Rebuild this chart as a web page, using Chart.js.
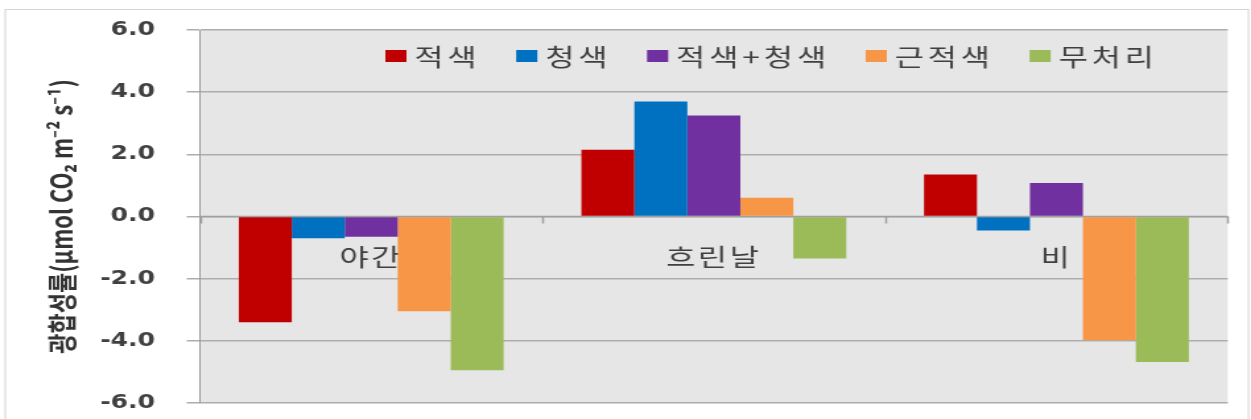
<!DOCTYPE html>
<html>
<head>
<meta charset="utf-8">
<script src="https://cdn.jsdelivr.net/npm/chart.js@4"></script>
<style>
  html, body { margin: 0; padding: 0; background: #fff; overflow: hidden; }
  /* the original picture is stretched sideways, so draw narrow and stretch */
  #wrap { width: 948px; height: 419px; transform: scaleX(1.3197); transform-origin: 0 0; }
</style>
</head>
<body>
<div id="wrap"><canvas id="grafico" width="948" height="419"></canvas></div>
<script>
// categorias e series
const categorias = ["야간", "흐린날", "비"];
const nomes = ["적색", "청색", "적색+청색", "근적색", "무처리"];
const cores = ["#c00000", "#0070c0", "#7030a0", "#f79646", "#9bbb59"];

const vermelho = [-3.4, 2.15, 1.35];
const azul = [-0.7, 3.7, -0.45];
const roxo = [-0.65, 3.25, 1.08];
const vermelhoLonge = [-3.05, 0.6, -3.98];
const controle = [-4.95, -1.35, -4.68];

const yMin = -6;
const yMax = 6;
const yPasso = 2;
const tituloY = "광합성률(μmol CO₂ m⁻² s⁻¹)";

const valores = [vermelho, azul, roxo, vermelhoLonge, controle];

const fonteKr = '"Noto Sans CJK KR", "Noto Sans", sans-serif';

const fundoPlugin = {
  id: "fundo",
  beforeDraw(chart) {
    const { ctx, chartArea: a } = chart;
    ctx.save();
    ctx.fillStyle = "#ffffff";
    ctx.fillRect(0, 0, chart.width, chart.height);
    ctx.strokeStyle = "#d4d4d4";
    ctx.lineWidth = 1;
    ctx.strokeRect(4, 9.5, chart.width - 6, chart.height + 5);
    ctx.fillStyle = "#e6e6e6";
    ctx.fillRect(a.left, a.top, a.right - a.left, a.bottom - a.top);
    ctx.restore();
  },
  beforeDatasetsDraw(chart) {
    const { ctx, scales } = chart;
    const y0 = scales.y.getPixelForValue(0);
    ctx.save();
    // eixo x no zero, com marcas entre as categorias
    ctx.strokeStyle = "#a0a0a0";
    ctx.lineWidth = 1.5;
    ctx.beginPath();
    ctx.moveTo(scales.x.left, y0);
    ctx.lineTo(scales.x.right, y0);
    for (let i = 0; i <= categorias.length; i++) {
      const px = Math.round(scales.x.getPixelForValue(i - 0.5)) + 0.5;
      ctx.moveTo(px, y0);
      ctx.lineTo(px, y0 + 7);
    }
    ctx.stroke();
    // rotulos das categorias logo abaixo do zero, atras das barras
    ctx.font = "24px " + fonteKr;
    ctx.letterSpacing = "2px";
    ctx.fillStyle = "#404040";
    ctx.textAlign = "center";
    ctx.textBaseline = "middle";
    categorias.forEach((c, i) => {
      ctx.fillText(c, scales.x.getPixelForValue(i), y0 + 40);
    });
    ctx.restore();
  },
  afterDatasetsDraw(chart) {
    // legenda dentro da area do grafico
    const { ctx } = chart;
    let x = 292;
    const yc = 56;
    ctx.save();
    ctx.font = "24px " + fonteKr;
    ctx.letterSpacing = "3px";
    ctx.textBaseline = "middle";
    ctx.textAlign = "left";
    chart.data.datasets.forEach((ds) => {
      ctx.fillStyle = ds.backgroundColor;
      ctx.fillRect(x, yc - 6, 16, 12);
      x += 16 + 6;
      ctx.fillStyle = "#404040";
      ctx.fillText(ds.label, x, yc + 1);
      x += ctx.measureText(ds.label).width + 27;
    });
    ctx.restore();
  },
};

const grafico = new Chart(document.getElementById("grafico"), {
  type: "bar",
  data: {
    labels: categorias,
    datasets: nomes.map((n, i) => ({
      label: n,
      data: valores[i],
      backgroundColor: cores[i],
      borderWidth: 0,
      categoryPercentage: 0.773,
      barPercentage: 1,
    })),
  },
  options: {
    responsive: false,
    animation: false,
    layout: {
      padding: { left: 0, right: 17.7, top: 30, bottom: 16 },
    },
    plugins: {
      legend: { display: false },
      tooltip: { enabled: false },
    },
    scales: {
      x: {
        display: false,
      },
      y: {
        min: yMin,
        max: yMax,
        afterFit(scale) {
          scale.width = 151.5;
          // o padding dos ticks nao deve empurrar a area vertical
          scale.paddingTop = 0;
          scale.paddingBottom = 0;
        },
        ticks: {
          stepSize: yPasso,
          padding: 24,
          color: "#404040",
          font: { family: "DejaVu Sans", size: 19, weight: "bold" },
          callback: (v) => Number(v).toFixed(1),
        },
        grid: { color: "#adadad", lineWidth: 1.5, tickLength: 10 },
        border: { color: "#9a9a9a", width: 1 },
        title: {
          display: true,
          text: tituloY,
          color: "#333333",
          font: { family: fonteKr, size: 22, weight: "bold" },
          padding: { top: 33, bottom: 0 },
        },
      },
    },
  },
  plugins: [fundoPlugin],
});
</script>
</body>
</html>
